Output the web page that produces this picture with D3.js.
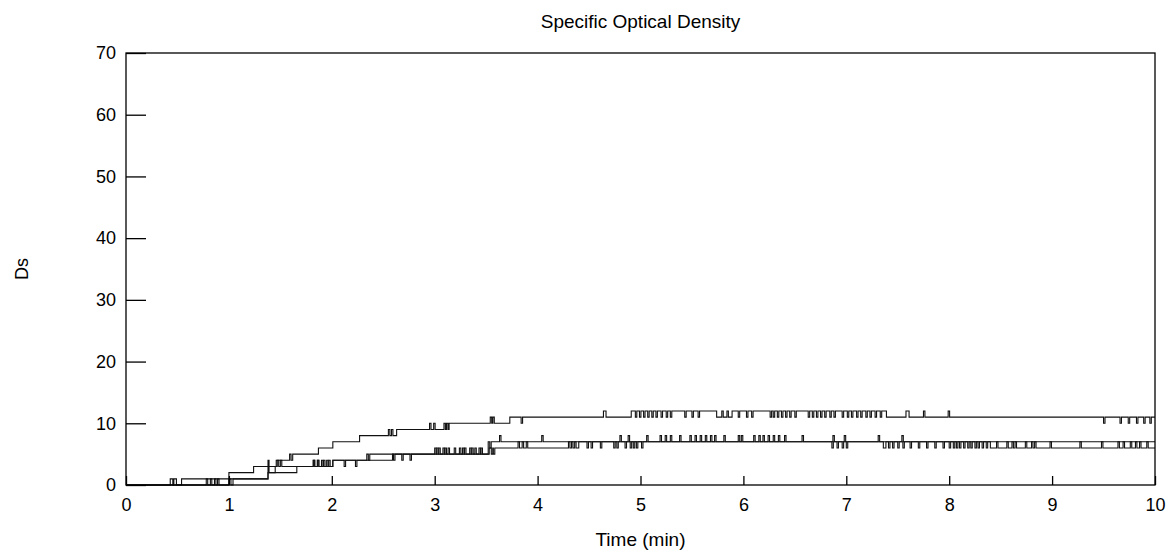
<!DOCTYPE html>
<html>
<head>
<meta charset="utf-8">
<script src="https://cdn.jsdelivr.net/npm/d3@7"></script>
<style>
  body { margin: 0; background: #fff; }
  svg text { font-family: "Liberation Sans", Arial, sans-serif; fill: #000; }
</style>
</head>
<body>
<svg id="chart" width="1169" height="551"></svg>
<script>
/* tick values */
var xTicks = [0, 1, 2, 3, 4, 5, 6, 7, 8, 9, 10];
var yTicks = [0, 10, 20, 30, 40, 50, 60, 70];

/* each series: steps = [time, Ds] where the level changes,
   blips = [time, Ds, width?] short one-sample excursions */
var stepsA = [[0, 0], [1.00, 2], [1.24, 3], [1.46, 4], [1.62, 5], [1.87, 6], [2.01, 7], [2.27, 8],
  [2.63, 9], [3.14, 10], [3.73, 11], [4.91, 12], [5.74, 11], [5.89, 12], [7.39, 11]];
var blipsA = [[1.59, 5], [2.55, 9], [2.58, 9], [2.95, 10], [2.99, 10], [3.09, 10], [3.115, 10],
  [3.54, 11], [3.565, 11], [3.84, 10], [4.64, 12, 0.025],
  [4.95, 11], [4.99, 11], [5.03, 11], [5.07, 11], [5.11, 11], [5.15, 11], [5.20, 11], [5.25, 11], [5.29, 11],
  [5.43, 11], [5.50, 11], [5.56, 11], [5.79, 12], [5.84, 12],
  [5.95, 11], [6.03, 11], [6.08, 11], [6.26, 11], [6.29, 11], [6.33, 11], [6.37, 11], [6.41, 11], [6.45, 11], [6.50, 11],
  [6.63, 11], [6.67, 11], [6.71, 11], [6.75, 11], [6.79, 11], [6.84, 11], [6.88, 11],
  [6.96, 11], [7.01, 11], [7.05, 11], [7.10, 11], [7.14, 11], [7.19, 11], [7.23, 11], [7.28, 11], [7.33, 11],
  [7.58, 12, 0.03], [7.75, 12], [7.99, 12],
  [9.50, 10], [9.66, 10], [9.74, 10], [9.82, 10], [9.89, 10], [9.95, 10]];

var stepsB = [[0, 0], [0.54, 1], [1.39, 2], [1.45, 3], [2.01, 4], [2.34, 5], [3.52, 7]];
var blipsB = [[0.43, 1, 0.025], [0.465, 1, 0.025], [1.38, 4], [1.47, 4], [1.50, 4],
  [1.82, 4], [1.86, 4], [1.90, 4], [1.95, 4], [2.355, 4],
  [3.00, 6], [3.04, 6], [3.08, 6], [3.13, 6], [3.24, 6], [3.29, 6], [3.34, 6], [3.39, 6], [3.45, 6],
  [3.535, 6], [3.63, 8], [4.04, 8], [4.80, 8], [4.88, 8], [5.06, 8], [5.19, 8], [5.24, 8], [5.29, 8],
  [5.38, 8], [5.48, 8], [5.53, 8], [5.58, 8], [5.63, 8], [5.68, 8], [5.72, 8], [5.81, 8], [5.95, 8],
  [5.98, 8], [6.10, 8], [6.15, 8], [6.19, 8], [6.24, 8], [6.29, 8], [6.34, 8], [6.40, 8], [6.57, 8],
  [6.87, 8], [6.98, 8], [7.31, 8], [7.54, 8]];

var stepsC = [[0, 0], [1.04, 1], [1.38, 2], [1.66, 3], [2.01, 4], [2.59, 5], [3.53, 6], [4.40, 7], [8.40, 6]];
var blipsC = [[0.78, 1], [0.82, 1], [0.86, 1], [0.89, 1], [1.00, 1, 0.02],
  [1.82, 4], [1.86, 4], [1.92, 4], [1.97, 4], [2.12, 3], [2.23, 3], [2.60, 4], [2.68, 4], [2.76, 4],
  [3.02, 6], [3.10, 6], [3.19, 6], [3.27, 6], [3.36, 6], [3.43, 6], [3.55, 5], [3.57, 5],
  [3.81, 7], [3.85, 7], [3.89, 7], [4.30, 7], [4.33, 7], [4.36, 7],
  [4.48, 6], [4.52, 6], [4.61, 6], [4.74, 6], [4.77, 6], [4.85, 6], [4.90, 6], [4.93, 6], [4.96, 6], [5.01, 6],
  [6.86, 6], [6.91, 6], [6.96, 6], [7.00, 6],
  [7.36, 6, 0.025], [7.41, 6], [7.45, 6], [7.50, 6], [7.55, 6], [7.62, 6], [7.70, 6], [7.78, 6], [7.86, 6], [7.94, 6],
  [8.00, 6], [8.04, 6], [8.07, 6], [8.10, 6], [8.14, 6], [8.18, 6], [8.21, 6], [8.25, 6], [8.28, 6], [8.32, 6], [8.36, 6],
  [8.46, 7], [8.56, 7], [8.61, 7], [8.64, 7], [8.74, 7], [8.80, 7], [8.83, 7], [8.98, 7], [9.27, 7],
  [9.48, 7], [9.64, 7], [9.69, 7], [9.76, 7], [9.81, 7], [9.85, 7], [9.92, 7]];

var svg = d3.select("#chart"),
    plotLeft = 126, plotRight = 1155, plotTop = 53, plotBottom = 485;

var x = d3.scaleLinear().domain([0, 10]).range([plotLeft, plotRight]),
    y = d3.scaleLinear().domain([0, 70]).range([plotBottom, plotTop]);

/* zet steps en blips om naar een lijst met punten */
function build(steps, blips) {
  function base(t) {
    var v = steps[0][1];
    steps.forEach(function(s) { if (s[0] <= t) v = s[1]; });
    return v;
  }
  var pts = steps.map(function(s) { return [s[0], s[1]]; });
  blips.forEach(function(b) {
    var w = b[2] || 0.014;
    pts.push([b[0], b[1]]);
    pts.push([b[0] + w, base(b[0] + w)]);
  });
  pts.sort(function(a, b) { return a[0] - b[0]; });
  pts.push([10, base(10)]);
  return pts;
}

var series = [build(stepsA, blipsA), build(stepsB, blipsB), build(stepsC, blipsC)];

var line = d3.line()
    .curve(d3.curveStepAfter)
    .x(function(d) { return x(d[0]); })
    .y(function(d) { return y(d[1]); });

svg.append("g")
    .selectAll("path")
    .data(series)
    .enter().append("path")
      .attr("d", line)
      .attr("fill", "none")
      .attr("stroke", "#111")
      .attr("stroke-width", 1.1);

/* x as, ticks naar binnen */
var xAxis = svg.append("g")
    .attr("transform", "translate(0," + plotBottom + ")")
    .call(d3.axisBottom(x).tickValues(xTicks).tickSizeInner(-9).tickSizeOuter(0).tickPadding(13));

/* y as, ticks naar binnen */
var yAxis = svg.append("g")
    .attr("transform", "translate(" + plotLeft + ",0)")
    .call(d3.axisLeft(y).tickValues(yTicks).tickSizeInner(-20).tickSizeOuter(0).tickPadding(10));

[xAxis, yAxis].forEach(function(g) {
  g.select(".domain").remove();
  g.selectAll("line").attr("stroke", "#000").attr("stroke-width", 1.3);
  g.selectAll("text").attr("font-size", 18).attr("font-family", "Liberation Sans, Arial, sans-serif");
});

/* kader */
svg.append("rect")
    .attr("x", plotLeft).attr("y", plotTop)
    .attr("width", plotRight - plotLeft).attr("height", plotBottom - plotTop)
    .attr("fill", "none").attr("stroke", "#000").attr("stroke-width", 1.3);

svg.append("text")
    .attr("x", (plotLeft + plotRight) / 2).attr("y", 28)
    .attr("text-anchor", "middle").attr("font-size", 19)
    .text("Specific Optical Density");

svg.append("text")
    .attr("x", (plotLeft + plotRight) / 2).attr("y", 546)
    .attr("text-anchor", "middle").attr("font-size", 19)
    .text("Time (min)");

svg.append("text")
    .attr("transform", "translate(28," + ((plotTop + plotBottom) / 2) + ") rotate(-90)")
    .attr("text-anchor", "middle").attr("font-size", 18)
    .text("Ds");
</script>
</body>
</html>
